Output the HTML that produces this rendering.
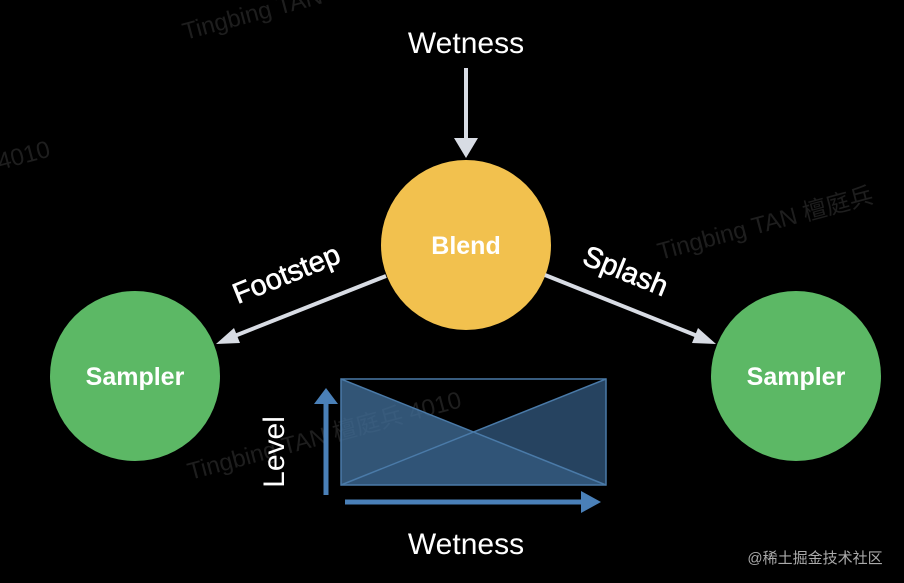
<!DOCTYPE html>
<html><head><meta charset="utf-8"><style>
body{margin:0;background:#000;width:904px;height:578px;overflow:hidden}
</style></head><body>
<svg width="904" height="578" xmlns="http://www.w3.org/2000/svg" font-family="Liberation Sans, Noto Sans CJK SC, sans-serif">
<rect width="904" height="578" fill="#000"/>
<g fill="#1e1e1e" font-size="24">
<text x="185" y="40" transform="rotate(-15 185 40)">Tingbing TAN</text>
<text x="0" y="170" transform="rotate(-15 0 170)">4010</text>
<text x="660" y="260" transform="rotate(-15 660 260)">Tingbing TAN 檀庭兵</text>
<text x="190" y="480" transform="rotate(-15 190 480)">Tingbing TAN 檀庭兵 4010</text>
</g>
<text x="466" y="53" fill="#fff" font-size="30" text-anchor="middle">Wetness</text>
<line x1="466" y1="68" x2="466" y2="142" stroke="#d8dce4" stroke-width="4"/>
<polygon points="454,138 478,138 466,158" fill="#d8dce4"/>
<circle cx="466" cy="245" r="85" fill="#f2c14e"/>
<text x="466" y="254" fill="#fff" font-size="25" font-weight="bold" text-anchor="middle">Blend</text>
<circle cx="135" cy="376" r="85" fill="#5cb865"/>
<text x="135" y="385" fill="#fff" font-size="25" font-weight="bold" text-anchor="middle">Sampler</text>
<circle cx="796" cy="376" r="85" fill="#5cb865"/>
<text x="796" y="385" fill="#fff" font-size="25" font-weight="bold" text-anchor="middle">Sampler</text>
<line x1="386" y1="276" x2="232" y2="337" stroke="#d8dce4" stroke-width="4"/>
<polygon points="216,344 234,328 240,343" fill="#d8dce4"/>
<line x1="545" y1="275" x2="700" y2="337" stroke="#d8dce4" stroke-width="4"/>
<polygon points="716,344 692,343 698,328" fill="#d8dce4"/>
<text x="290" y="283" fill="#fff" stroke="#fff" stroke-width="0.6" font-size="29" text-anchor="middle" transform="rotate(-22 290 283)">Footstep</text>
<text x="622" y="280" fill="#fff" stroke="#fff" stroke-width="0.6" font-size="29" text-anchor="middle" transform="rotate(22 622 280)">Splash</text>
<polygon points="341,379 606,485 341,485" fill="#3e6a94" opacity="0.8"/>
<polygon points="341,485 606,379 606,485" fill="#2f5478" opacity="0.8"/>
<rect x="341" y="379" width="265" height="106" fill="none" stroke="#4a7aa8" stroke-width="1.5"/>
<line x1="341" y1="379" x2="606" y2="485" stroke="#4a7aa8" stroke-width="1.5"/>
<line x1="341" y1="485" x2="606" y2="379" stroke="#4a7aa8" stroke-width="1.5"/>
<line x1="326" y1="495" x2="326" y2="400" stroke="#4a80b8" stroke-width="5"/>
<polygon points="314,404 338,404 326,388" fill="#4a80b8"/>
<line x1="345" y1="502" x2="585" y2="502" stroke="#4a80b8" stroke-width="5"/>
<polygon points="581,491 601,502 581,513" fill="#4a80b8"/>
<text x="274" y="452" fill="#fff" font-size="30" text-anchor="middle" transform="rotate(-90 274 452)" dy="10">Level</text>
<text x="466" y="554" fill="#fff" font-size="30" text-anchor="middle">Wetness</text>
<text x="815" y="563" fill="#aaa" font-size="15" text-anchor="middle">@稀土掘金技术社区</text>
</svg>
</body></html>
